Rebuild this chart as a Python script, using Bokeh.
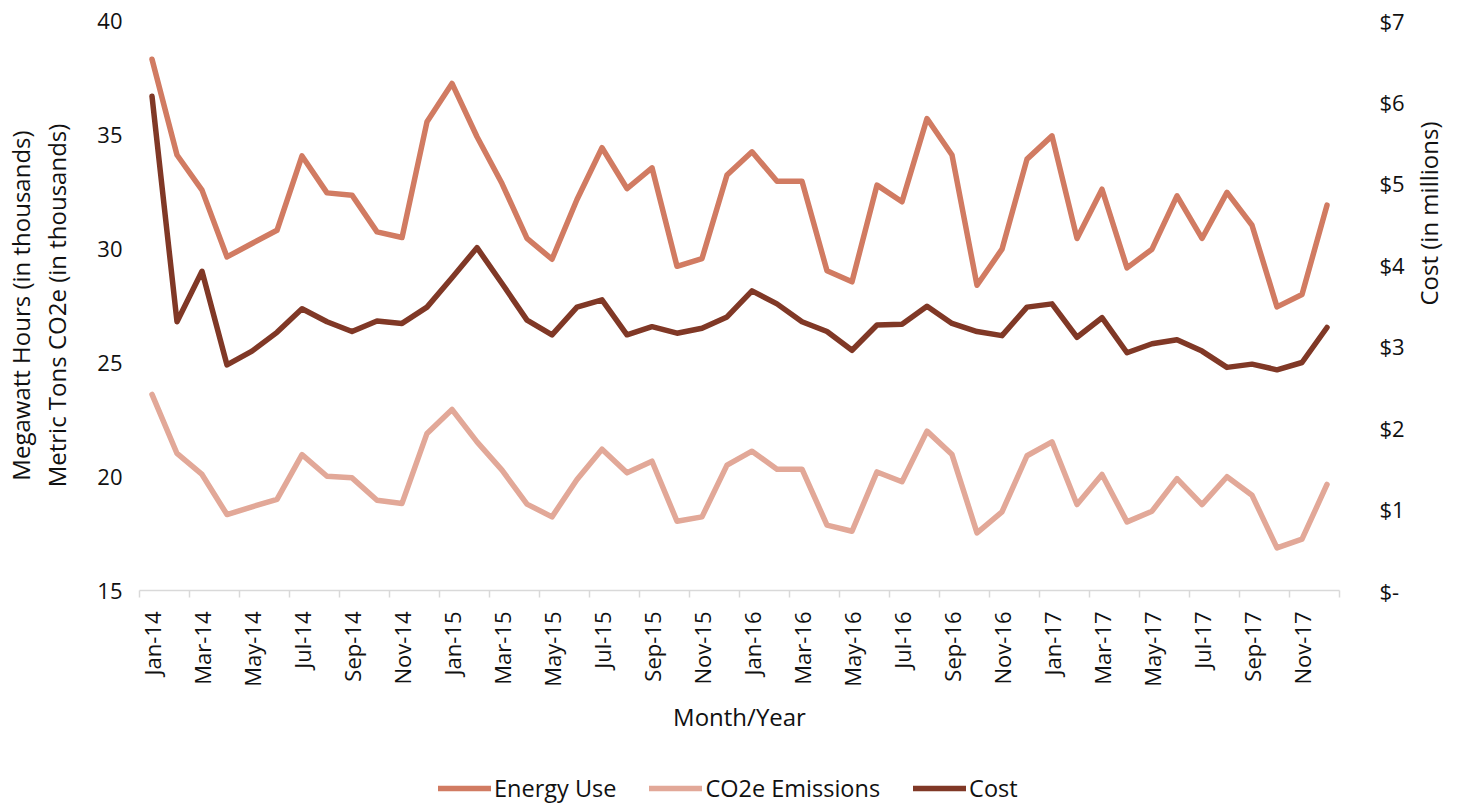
import math
from bokeh.plotting import figure
from bokeh.layouts import column
from bokeh.models import Range1d, LinearAxis, FixedTicker, Legend, LegendItem
from bokeh.embed import file_html
from bokeh.resources import INLINE

months = ["Jan-14", "Feb-14", "Mar-14", "Apr-14", "May-14", "Jun-14", "Jul-14", "Aug-14", "Sep-14", "Oct-14", "Nov-14", "Dec-14",
          "Jan-15", "Feb-15", "Mar-15", "Apr-15", "May-15", "Jun-15", "Jul-15", "Aug-15", "Sep-15", "Oct-15", "Nov-15", "Dec-15",
          "Jan-16", "Feb-16", "Mar-16", "Apr-16", "May-16", "Jun-16", "Jul-16", "Aug-16", "Sep-16", "Oct-16", "Nov-16", "Dec-16",
          "Jan-17", "Feb-17", "Mar-17", "Apr-17", "May-17", "Jun-17", "Jul-17", "Aug-17", "Sep-17", "Oct-17", "Nov-17", "Dec-17"]

energy_use = [38.3, 34.1, 32.56, 29.63, 30.22, 30.8, 34.06, 32.44, 32.34, 30.73, 30.48, 35.56,
              37.24, 34.9, 32.85, 30.44, 29.53, 32.15, 34.42, 32.63, 33.54, 29.22, 29.56, 33.22,
              34.24, 32.95, 32.95, 29.02, 28.54, 32.78, 32.05, 35.7, 34.1, 28.39, 29.97, 33.92,
              34.94, 30.44, 32.6, 29.15, 29.97, 32.31, 30.44, 32.46, 31.02, 27.44, 27.98, 31.9]

co2e_emissions = [23.6, 21.01, 20.09, 18.33, 18.67, 19.0, 20.96, 20.01, 19.94, 18.96, 18.82, 21.89,
                  22.94, 21.52, 20.28, 18.79, 18.23, 19.87, 21.2, 20.16, 20.67, 18.04, 18.23, 20.5,
                  21.11, 20.32, 20.32, 17.87, 17.6, 20.2, 19.77, 21.99, 20.96, 17.53, 18.45, 20.91,
                  21.52, 18.77, 20.09, 18.01, 18.48, 19.91, 18.77, 19.99, 19.18, 16.87, 17.25, 19.65]

cost_millions = [6.07, 3.30, 3.92, 2.77, 2.94, 3.17, 3.46, 3.30, 3.18, 3.31, 3.28, 3.48,
                 3.84, 4.21, 3.77, 3.32, 3.14, 3.48, 3.57, 3.14, 3.24, 3.16, 3.22, 3.36,
                 3.68, 3.52, 3.30, 3.18, 2.95, 3.26, 3.27, 3.49, 3.28, 3.18, 3.13, 3.48,
                 3.52, 3.11, 3.35, 2.92, 3.03, 3.08, 2.94, 2.74, 2.78, 2.71, 2.80, 3.23]

series_names = ["Energy Use", "CO2e Emissions", "Cost"]
left_ticks = [15, 20, 25, 30, 35, 40]
cost_ticks = [0, 1, 2, 3, 4, 5, 6, 7]
cost_tick_labels = ["$-", "$1", "$2", "$3", "$4", "$5", "$6", "$7"]

C_ENERGY = "#D17B62"
C_CO2 = "#E2A898"
C_COST = "#803826"
COLORS = [C_ENERGY, C_CO2, C_COST]
FONT = "Open Sans"
TXT = "#111111"
LW = 5.5
FIG_W = 133 + 1200 + 112

x = list(range(len(months)))

p = figure(frame_width=1200, frame_height=570,
           min_border_left=133, min_border_right=112, min_border_top=20, min_border_bottom=148,
           x_range=Range1d(-0.5, len(months) - 0.5), y_range=Range1d(15, 40),
           output_backend="svg", toolbar_location=None)
p.extra_y_ranges = {"cost": Range1d(0, 7)}
p.outline_line_color = None
p.xgrid.grid_line_color = None
p.ygrid.grid_line_color = None
p.background_fill_color = "white"
p.border_fill_color = "white"

# x axis
xa = p.xaxis[0]
xa.ticker = FixedTicker(ticks=list(range(0, len(months), 2)),
                        minor_ticks=[i - 0.5 for i in range(0, len(months) + 1, 2)])
xa.major_label_overrides = {i: months[i] for i in range(0, len(months), 2)}
xa.major_label_orientation = math.pi / 2
xa.axis_line_color = "#D9D9D9"
xa.axis_line_width = 1.5
xa.major_tick_line_color = None
xa.major_tick_out = 0
xa.major_tick_in = 0
xa.minor_tick_line_color = "#D9D9D9"
xa.minor_tick_line_width = 1.5
xa.minor_tick_out = 7
xa.minor_tick_in = 0
xa.major_label_standoff = 14
xa.major_label_text_font = FONT
xa.major_label_text_font_size = "22px"
xa.major_label_text_color = TXT
xa.axis_label = "Month/Year"
xa.axis_label_standoff = 10
xa.axis_label_text_font = FONT
xa.axis_label_text_font_size = "24px"
xa.axis_label_text_font_style = "normal"
xa.axis_label_text_color = TXT

# left axis (inner)
ya = p.yaxis[0]
ya.ticker = FixedTicker(ticks=left_ticks)
ya.axis_line_color = None
ya.major_tick_line_color = None
ya.minor_tick_line_color = None
ya.major_tick_out = 0
ya.major_tick_in = 0
ya.major_label_standoff = 17
ya.major_label_text_font = FONT
ya.major_label_text_font_size = "22px"
ya.major_label_text_color = TXT
ya.axis_label = "Metric Tons CO2e (in thousands)"
ya.axis_label_standoff = 21
ya.axis_label_text_font = FONT
ya.axis_label_text_font_size = "24px"
ya.axis_label_text_font_style = "normal"
ya.axis_label_text_color = TXT

# left axis (outer, label only)
ya2 = LinearAxis(ticker=FixedTicker(ticks=[]), axis_label="Megawatt Hours (in thousands)",
                 axis_line_color=None, major_tick_line_color=None, minor_tick_line_color=None,
                 major_tick_out=0, major_tick_in=0, major_label_standoff=0,
                 major_label_text_font_size="0px", axis_label_standoff=1,
                 axis_label_text_font=FONT, axis_label_text_font_size="24px",
                 axis_label_text_font_style="normal", axis_label_text_color=TXT)
p.add_layout(ya2, "left")

# right axis
ra = LinearAxis(y_range_name="cost", ticker=FixedTicker(ticks=cost_ticks),
                major_label_overrides={t: l for t, l in zip(cost_ticks, cost_tick_labels)},
                axis_line_color=None, major_tick_line_color=None, minor_tick_line_color=None,
                major_tick_out=0, major_tick_in=0, major_label_standoff=40,
                major_label_text_font=FONT, major_label_text_font_size="22px",
                major_label_text_color=TXT,
                axis_label="Cost (in millions)", axis_label_standoff=21,
                axis_label_orientation=math.pi / 2,
                axis_label_text_font=FONT, axis_label_text_font_size="24px",
                axis_label_text_font_style="normal", axis_label_text_color=TXT)
p.add_layout(ra, "right")

p.line(x, energy_use, line_color=C_ENERGY, line_width=LW, line_join="round", line_cap="round")
p.line(x, co2e_emissions, line_color=C_CO2, line_width=LW, line_join="round", line_cap="round")
p.line(x, cost_millions, line_color=C_COST, line_width=LW, line_join="round", line_cap="round",
       y_range_name="cost")

# legend strip below the chart (its series lines fall outside its empty view; only the legend shows)
lf = figure(width=FIG_W, height=66, min_border=0,
            x_range=Range1d(-0.5, len(months) - 0.5), y_range=Range1d(1000, 1001),
            x_axis_type=None, y_axis_type=None, output_backend="svg", toolbar_location=None)
lf.outline_line_color = None
lf.xgrid.grid_line_color = None
lf.ygrid.grid_line_color = None
items = []
for name, col, vals in zip(series_names, COLORS, [energy_use, co2e_emissions, cost_millions]):
    r = lf.line(x, vals, line_color=col, line_width=LW, line_cap="round")
    items.append(LegendItem(label=name, renderers=[r]))
legend = Legend(items=items, orientation="horizontal", location=(299, 0),
                border_line_color=None, background_fill_alpha=0,
                label_text_font=FONT, label_text_font_size="23.5px", label_text_color=TXT,
                glyph_width=53, glyph_height=20, label_standoff=3, spacing=33,
                padding=0, margin=0)
lf.add_layout(legend, "center")

open("out.html", "w").write(file_html(column(p, lf, spacing=0), INLINE))
